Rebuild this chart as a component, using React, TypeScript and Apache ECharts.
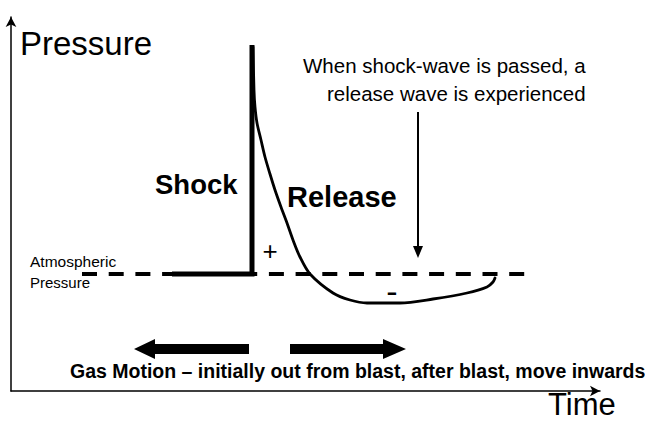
import React, { useEffect, useRef } from "react";
import * as echarts from "echarts";

// Time / pressure in arbitrary units (atmospheric pressure = 0)
const atmosTime = [7.1, 51.7];
const atmosPressure = [0, 0];

const shockTime = [16.1, 24.1, 24.1];
const shockPressure = [0, 0, 22.9];

const decayTime = [24.2, 24.3, 24.4, 24.6, 25.0, 25.4, 25.9, 26.4, 27.0, 27.6, 28.2, 28.9, 29.9, 32.2, 33.9, 35.6, 38.9, 42.2, 45.6, 47.6, 48.2, 48.4];
const decayPressure = [22.7, 18.4, 16.7, 15.1, 13.4, 11.7, 10.0, 8.4, 6.7, 5.1, 3.4, 1.7, 0, -1.9, -2.6, -2.9, -2.9, -2.5, -1.9, -1.3, -0.8, -0.4];

const axisTitles = ["Pressure", "Time"];
const phaseLabels = ["Shock", "Release"];
const noteLines = ["When shock-wave is passed, a", "release wave is experienced"];
const atmosLabel = ["Atmospheric", "Pressure"];
const gasMotionText = "Gas Motion \u2013 initially out from blast, after blast, move inwards";

const FONT = "'Liberation Sans', Arial, sans-serif";

const zip = (a: number[], b: number[]) => a.map((v, i) => [v, b[i]]);

export default function App() {
  const ref = useRef<HTMLDivElement>(null);
  useEffect(() => {
    if (!ref.current) return;
    const chart = echarts.init(ref.current, undefined, { renderer: "svg" });
    const axisCommon = {
      type: "value" as const,
      axisLine: {
        show: true,
        onZero: false,
        symbol: ["none", "arrow"],
        symbolSize: [8, 10],
        lineStyle: { color: "#000", width: 1.5 },
      },
      axisTick: { show: false },
      axisLabel: { show: false },
      splitLine: { show: false },
    };
    const txt = (text: string, x: number, y: number, size: number, bold = false, align = "left") => ({
      type: "text",
      x,
      y,
      style: {
        text,
        fill: "#000",
        font: `${bold ? "bold " : ""}${size}px ${FONT}`,
        lineHeight: Math.round(size * 0.8),
        textAlign: align,
        textVerticalAlign: "middle",
      },
      silent: true,
    });
    chart.setOption({
      animation: false,
      backgroundColor: "#fff",
      grid: { left: 11, right: 45, top: 17, bottom: 30 },
      xAxis: { ...axisCommon, min: 0, max: 58.9 },
      yAxis: { ...axisCommon, min: -11.7, max: 25.7 },
      series: [
        {
          type: "line",
          data: zip(atmosTime, atmosPressure),
          symbol: "none",
          silent: true,
          lineStyle: { color: "#000", width: 4, type: [15, 11.7] },
        },
        {
          type: "line",
          data: zip(shockTime, shockPressure),
          symbol: "none",
          silent: true,
          lineStyle: { color: "#000", width: 5, join: "miter" },
        },
        {
          type: "line",
          data: zip(decayTime, decayPressure),
          symbol: "none",
          smooth: 0.3,
          silent: true,
          lineStyle: { color: "#000", width: 2.8, cap: "round" },
        },
      ],
      graphic: [
        txt(axisTitles[0], 20, 43, 33),
        txt(axisTitles[1], 548, 404, 31),
        txt(phaseLabels[0], 155, 184.5, 27.5, true),
        txt(phaseLabels[1], 287, 197, 29, true),
        txt(noteLines[0], 303, 65.3, 20.5),
        txt(noteLines[1], 327, 93.6, 20.5),
        txt(atmosLabel[0], 30, 261.2, 15.5),
        txt(atmosLabel[1], 30, 282.4, 15),
        txt("+", 270, 251, 26, false, "center"),
        txt("-", 392, 290.5, 34, false, "center"),
        txt(gasMotionText, 70, 371, 19.5, true),
        {
          type: "line",
          shape: { x1: 418, y1: 112, x2: 418, y2: 248 },
          style: { stroke: "#000", lineWidth: 2 },
          silent: true,
        },
        {
          type: "polygon",
          shape: { points: [[413, 246], [423, 246], [418, 258]] },
          style: { fill: "#000" },
          silent: true,
        },
        {
          type: "polygon",
          shape: {
            points: [[134, 349], [155, 339], [155, 344], [249, 344], [249, 354], [155, 354], [155, 359]],
          },
          style: { fill: "#000" },
          silent: true,
        },
        {
          type: "polygon",
          shape: {
            points: [[290, 344], [383, 344], [383, 339], [406, 349], [383, 359], [383, 354], [290, 354]],
          },
          style: { fill: "#000" },
          silent: true,
        },
      ],
    });
    return () => chart.dispose();
  }, []);
  return <div ref={ref} style={{ width: 645, height: 421, position: "absolute", left: 0, top: 0 }} />;
}
